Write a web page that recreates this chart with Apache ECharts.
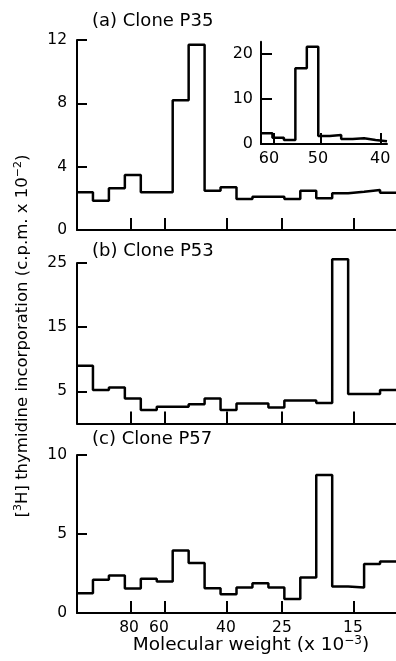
<!DOCTYPE html>
<html>
<head>
<meta charset="utf-8">
<script src="https://cdn.jsdelivr.net/npm/echarts@6/dist/echarts.min.js"></script>
<style>
  html, body { margin: 0; padding: 0; background: #fff; }
  #chart { width: 396px; height: 661px; }
</style>
</head>
<body>
<div id="chart"></div>
<script>
// counts per gel fraction (c.p.m. x 10^-2)
const cloneP35 = [2.38, 1.85, 2.63, 3.47, 2.38, 2.38, 8.2, 11.7, 2.48, 2.7, 1.96, 2.1, 2.1, 1.96, 2.48, 2.0, 2.32, 2.42, 2.53, 2.36];
const cloneP53 = [9.0, 5.2, 5.6, 3.9, 2.1, 2.6, 2.6, 3.0, 3.9, 2.1, 3.1, 3.1, 2.5, 3.6, 3.6, 3.2, 25.6, 4.6, 4.6, 5.2];
const cloneP57 = [1.25, 2.1, 2.37, 1.55, 2.16, 2.0, 3.96, 3.16, 1.57, 1.19, 1.61, 1.89, 1.61, 0.89, 2.25, 8.73, 1.67, 1.61, 3.1, 3.26];
const insetP35 = [2.4, 1.4, 0.9, 16.8, 21.6, 1.8, 2.0, 1.1, 1.3, 0.9, 0.6];

// molecular weight markers (x 10^-3), positions in fraction units
const mwLabels = ["80", "60", "40", "25", "15"];
const mwTickPos = [3.37, 5.52, 9.39, 12.83, 17.32];
const mwLabelPos = [3.26, 5.14, 9.34, 12.85, 17.3];
const insetLabels = ["60", "50", "40"];
const insetTickPos = [1.07, 5.21, 10.48];
const insetLabelPos = [0.7, 4.98, 10.4];

const FONT = "DejaVu Sans";
const black = "#000";

const chart = echarts.init(document.getElementById("chart"));

const steps = (vals) => vals.map((v, i) => [i, v]).concat([[vals.length, vals[vals.length - 1]]]);

function pick(labels, pos) {
  return (v) => {
    let best = 0;
    pos.forEach((p, i) => { if (Math.abs(p - v) < Math.abs(pos[best] - v)) best = i; });
    return labels[best];
  };
}

// ticks point into the plot, hence the negative length
function xAxis(gi, max, tickPos, tickLen, labels, labelPos, fontSize) {
  return {
    type: "value", gridIndex: gi, min: 0, max: max,
    splitLine: { show: false },
    axisLine: { onZero: false, lineStyle: { color: black, width: 2 } },
    axisTick: { length: -tickLen, customValues: tickPos, lineStyle: { color: black, width: 2 } },
    axisLabel: labels
      ? { customValues: labelPos, formatter: pick(labels, labelPos), margin: 7, color: black, fontSize: fontSize, fontFamily: FONT }
      : { show: false }
  };
}

function yAxis(gi, max, ticks, labels, tickLen, fontSize, margin) {
  return {
    type: "value", gridIndex: gi, min: 0, max: max,
    splitLine: { show: false },
    axisLine: { lineStyle: { color: black, width: 2 } },
    axisTick: { length: -tickLen, customValues: ticks, lineStyle: { color: black, width: 2 } },
    axisLabel: { customValues: labels, margin: margin, color: black, fontSize: fontSize, fontFamily: FONT }
  };
}

function stepSeries(idx, vals) {
  return {
    type: "line", step: "end", xAxisIndex: idx, yAxisIndex: idx,
    data: steps(vals), symbol: "none", clip: false, silent: true,
    lineStyle: { color: black, width: 2.5 }
  };
}

const panelTitle = (text, y) => ({
  type: "text", left: 92, top: y,
  style: { text: text, fontSize: 18, fontFamily: FONT, fill: black }
});

const option = {
  animation: false,
  backgroundColor: "#fff",
  grid: [
    { left: 77, width: 319, top: 40, height: 190 },
    { left: 77, width: 319, top: 263, height: 160.5 },
    { left: 77, width: 319, top: 455, height: 158 },
    { left: 261, width: 126, top: 41.7, height: 102.3 }
  ],
  xAxis: [
    xAxis(0, 20, mwTickPos, 12),
    xAxis(1, 20, mwTickPos, 12),
    xAxis(2, 20, mwTickPos, 12, mwLabels, mwLabelPos, 15.5),
    xAxis(3, 11, insetTickPos, 11, insetLabels, insetLabelPos, 16)
  ],
  yAxis: [
    yAxis(0, 12, [4, 8, 12], [0, 4, 8, 12], 10, 15.5, 10),
    yAxis(1, 25, [5, 15, 25], [5, 15, 25], 10, 15.5, 10),
    yAxis(2, 10, [5, 10], [0, 5, 10], 10, 15.5, 10),
    yAxis(3, 22.7, [10, 20], [0, 10, 20], 11, 16, 8)
  ],
  series: [
    stepSeries(0, cloneP35),
    stepSeries(1, cloneP53),
    stepSeries(2, cloneP57),
    stepSeries(3, insetP35)
  ],
  graphic: [
    panelTitle("(a) Clone P35", 12),
    panelTitle("(b) Clone P53", 242),
    panelTitle("(c) Clone P57", 430),
    {
      type: "text", x: 23, y: 336, rotation: Math.PI / 2,
      style: {
        text: "[{sup|3}H] thymidine incorporation (c.p.m. x 10{sup|\u22122})",
        fontSize: 16.5, fontFamily: FONT, fill: black,
        align: "center", verticalAlign: "middle", lineHeight: 20,
        rich: { sup: { fontSize: 11, fontFamily: FONT, verticalAlign: "top", fill: black } }
      }
    },
    {
      type: "text", x: 251, y: 645,
      style: {
        text: "Molecular weight (x 10{sup|\u22123})",
        fontSize: 18.5, fontFamily: FONT, fill: black,
        align: "center", verticalAlign: "middle", lineHeight: 20,
        rich: { sup: { fontSize: 12, fontFamily: FONT, verticalAlign: "top", fill: black } }
      }
    }
  ]
};

chart.setOption(option);
window.addEventListener("resize", () => chart.resize());
</script>
</body>
</html>
